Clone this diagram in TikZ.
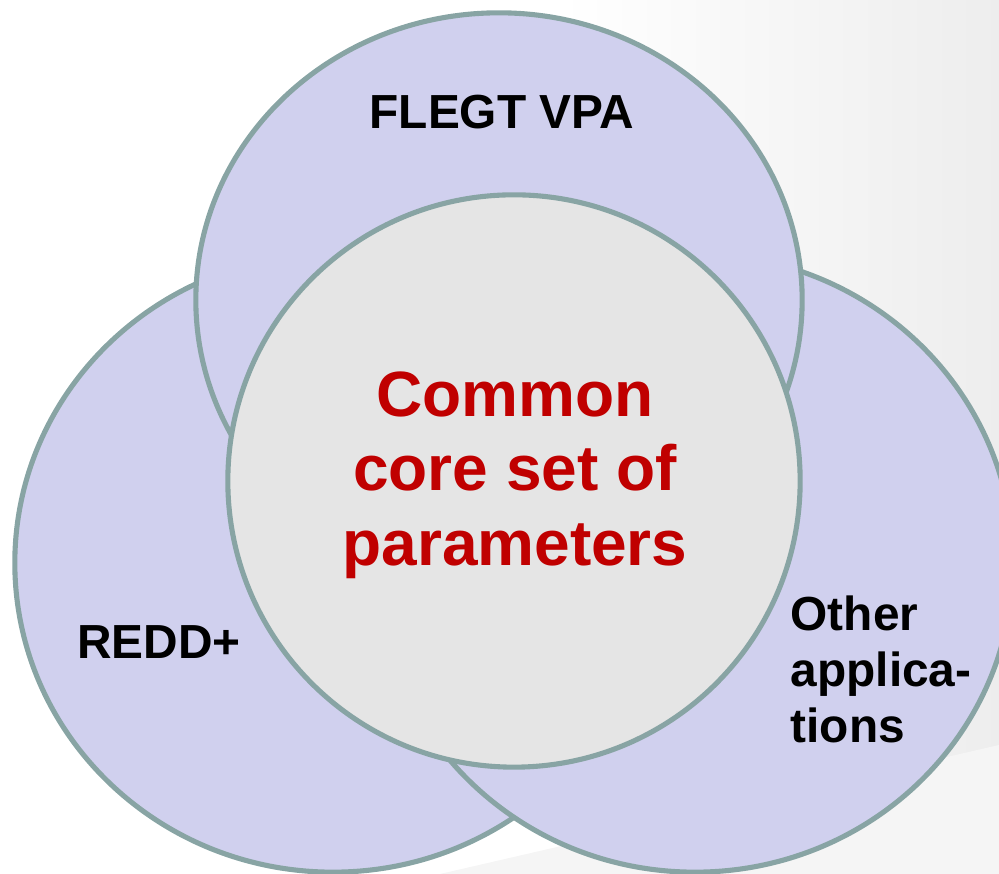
\documentclass[tikz,border=0pt]{standalone}
\usepackage{fontspec}
\setmainfont{Liberation Sans}
\definecolor{vennfill}{RGB}{208,208,238}
\definecolor{vennline}{RGB}{136,164,164}
\definecolor{corefill}{RGB}{229,229,229}
\definecolor{corered}{RGB}{192,0,0}

\begin{document}
\begin{tikzpicture}[x=0.01cm,y=-0.01cm,
    venn/.style={fill=vennfill,draw=vennline,line width=1.45pt},
    core/.style={fill=corefill,draw=vennline,line width=1.45pt},
    lbl/.style={font=\fontsize{13.6}{16}\selectfont\bfseries,inner sep=0pt},
    corelbl/.style={font=\fontsize{18.2}{21.2}\selectfont\bfseries,text=corered,align=center,inner sep=0pt}]
    \useasboundingbox (0,0) rectangle (999,874);
    \shade[left color=white,right color=black!7] (560,0) rectangle (999,874);
    \fill[black!4] (440,874) -- (999,745) -- (999,874) -- cycle;
    % background circles
    \draw[venn] (333,563) ellipse [x radius=3.18cm,y radius=3.09cm];
    \draw[venn] (695,563) ellipse [x radius=3.18cm,y radius=3.09cm];
    \draw[venn] (499,300) ellipse [x radius=3.03cm,y radius=2.87cm];
    % core
    \draw[core] (514,481) circle [radius=2.86cm];
    \node[lbl,anchor=base] (flegt) at (502,129) {FLEGT VPA};
    \node[lbl,anchor=base] (redd) at (159,659) {REDD+};
    \node[lbl,anchor=north west,align=left,font=\fontsize{13.6}{16}\selectfont\bfseries] (other) at (790,595) {Other\\applica-\\tions};
    \node[corelbl] (params) at (515,475) {Common\\core set of\\parameters};
\end{tikzpicture}
\end{document}
